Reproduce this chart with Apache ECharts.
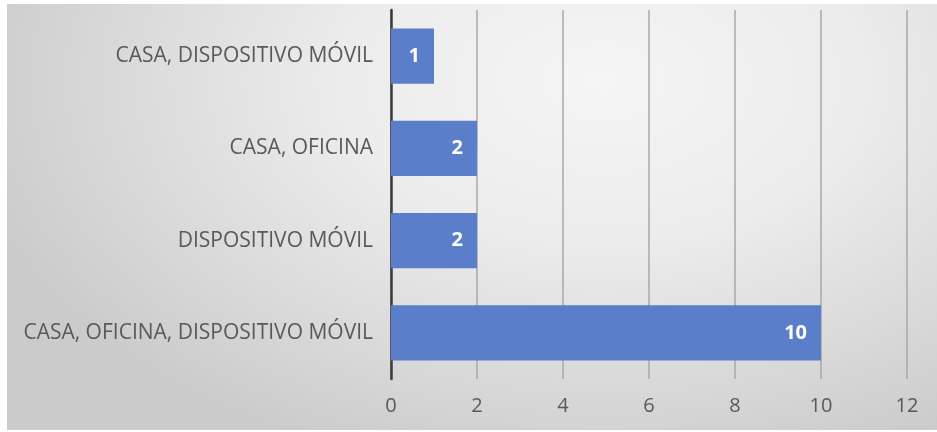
<!DOCTYPE html>
<html>
<head>
<meta charset="utf-8">
<script src="https://cdn.jsdelivr.net/npm/echarts@6/dist/echarts.min.js"></script>
<style>
  html, body { margin: 0; padding: 0; background: #ffffff; }
  #bg {
    position: absolute; left: 7px; top: 4px; width: 930px; height: 426px;
    background: radial-gradient(ellipse 70% 95% at 64% 18%, #f5f5f5 0%, #ececec 40%, #d9d9d9 75%, #cbcbcb 100%);
  }
  #chart { position: absolute; left: 0; top: 0; width: 937px; height: 432px; }
</style>
</head>
<body>
<div id="bg"></div>
<div id="chart"></div>
<script>
// Access locations, listed top to bottom
const categories = [
  'CASA, DISPOSITIVO MÓVIL',
  'CASA, OFICINA',
  'DISPOSITIVO MÓVIL',
  'CASA, OFICINA, DISPOSITIVO MÓVIL'
];
const counts = [1, 2, 2, 10];
const xTicks = [0, 2, 4, 6, 8, 10, 12];

const chart = echarts.init(document.getElementById('chart'), null, { renderer: 'canvas' });

const labelFont = '"Open Sans", "Liberation Sans", sans-serif';

chart.setOption({
  backgroundColor: 'transparent',
  animation: false,
  grid: { left: 391, right: 30, top: 10, bottom: 53, containLabel: false },
  xAxis: {
    type: 'value',
    min: xTicks[0],
    max: xTicks[xTicks.length - 1],
    interval: xTicks[1] - xTicks[0],
    axisLine: { show: false },
    axisTick: { show: false },
    axisLabel: {
      color: '#595959', fontSize: 20, fontFamily: labelFont, margin: 17
    },
    splitLine: { show: true, lineStyle: { color: '#a8a8a8', width: 1.5 } }
  },
  yAxis: {
    type: 'category',
    data: categories,
    inverse: true,
    axisLine: { show: true, lineStyle: { color: '#3a3a3a', width: 2.5 } },
    axisTick: { show: false },
    axisLabel: {
      color: '#595959', fontSize: 21, fontFamily: labelFont, margin: 18
    }
  },
  series: [{
    type: 'bar',
    data: counts,
    barCategoryGap: '40%',
    itemStyle: { color: '#5a7ec9' },
    label: {
      show: true,
      position: 'insideRight',
      distance: 14,
      color: '#ffffff',
      fontWeight: 'bold',
      fontSize: 20,
      fontFamily: labelFont
    }
  }]
});
</script>
</body>
</html>
